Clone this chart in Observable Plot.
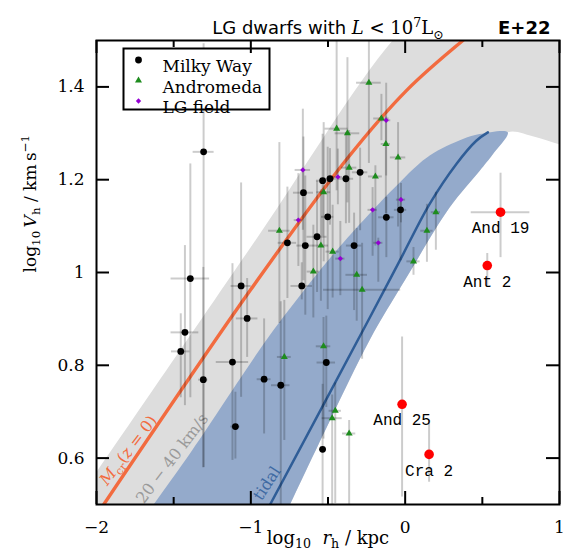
<!DOCTYPE html>
<html>
<head>
<meta charset="utf-8">
<script src="https://cdn.jsdelivr.net/npm/d3@7"></script>
<script src="https://cdn.jsdelivr.net/npm/@observablehq/plot@0.6"></script>
<style>
  html, body { margin: 0; padding: 0; background: #fff; }
</style>
</head>
<body>
<div id="chart"></div>
<script>
// ---------- Milky Way satellites: log10 r_h [kpc], log10 V_h [km/s] ----------
const mwX    = [-1.306,-1.392,-1.427,-1.454,-1.308,-1.063,-1.024,-1.119,-1.100,-0.914,-0.806,-0.670,-0.763,-0.647,-0.571,-0.511,-0.535,-0.659,-0.502,-0.535,-0.487,-0.384,-0.292,-0.331,-0.122,-0.030];
const mwY    = [1.260,0.987,0.871,0.830,0.769,0.971,0.901,0.807,0.668,0.770,0.757,0.971,1.064,1.058,1.077,0.806,0.619,1.172,1.120,1.198,1.202,1.202,1.216,1.058,1.119,1.135];
const mwXErr = [0.068,0.125,0.090,0.060,0.030,0.065,0.070,0.105,0.030,0.045,0.060,0.070,0.060,0.055,0.065,0.060,0.020,0.065,0.040,0.040,0.040,0.050,0.050,0.050,0.050,0.040];
const mwYUp  = [0.233,0.247,0.187,0.081,0.242,0.222,0.086,0.212,0.074,0.130,0.180,0.050,0.120,0.150,0.120,0.100,0.140,0.120,0.150,0.100,0.065,0.100,0.052,0.070,0.043,0.026];
const mwYDn  = [0.680,0.257,0.158,0.100,0.190,0.240,0.084,0.212,0.070,0.118,0.300,0.030,0.120,0.150,0.120,0.097,0.120,0.190,0.200,0.120,0.100,0.097,0.126,0.140,0.087,0.110];

// ---------- Andromeda satellites ----------
const m31X    = [-0.235,-0.444,-0.374,-0.154,-0.125,-0.046,-0.363,-0.193,-0.528,-0.815,-0.546,-0.470,-0.595,0.199,0.141,0.054,-0.314,-0.279,-0.783,-0.529,-0.453,-0.473,-0.363];
const m31Y    = [1.409,1.310,1.300,1.332,1.277,1.248,1.226,1.207,1.173,1.090,1.058,1.045,1.002,1.130,1.090,1.024,0.995,0.963,0.818,0.841,0.702,0.686,0.653];
const m31XErr = [0.080,0.075,0.080,0.050,0.030,0.050,0.050,0.045,0.045,0.070,0.050,0.043,0.040,0.030,0.040,0.043,0.070,0.250,0.045,0.047,0.040,0.065,0.043];
const m31YUp  = [0.091,0.190,0.163,0.052,0.060,0.075,0.080,0.023,0.150,0.190,0.120,0.100,0.100,0.043,0.057,0.030,0.100,0.100,0.122,0.062,0.060,0.050,0.028];
const m31YDn  = [0.174,0.134,0.150,0.048,0.150,0.150,0.120,0.150,0.150,0.200,0.120,0.100,0.100,0.082,0.068,0.030,0.100,0.150,0.180,0.200,0.200,0.200,0.160];

// ---------- Local Group field dwarfs ----------
const lgX    = [-0.663,-0.436,-0.123,-0.692,-0.027,-0.211,-0.174,-0.420];
const lgY    = [1.221,1.206,1.328,1.113,1.157,1.135,1.064,1.030];
const lgXErr = [0.050,0.030,0.030,0.027,0.030,0.030,0.030,0.030];
const lgYUp  = [0.131,0.060,0.080,0.100,0.035,0.048,0.010,0.080];
const lgYDn  = [0.130,0.060,0.120,0.100,0.050,0.100,0.085,0.080];

// ---------- highlighted outliers ----------
const oddNames = ["And 19", "Ant 2", "And 25", "Cra 2"];
const oddX     = [0.618, 0.532, -0.020, 0.155];
const oddY     = [1.130, 1.015, 0.716, 0.608];
const oddXErr  = [0.190, 0.000, 0.015, 0.000];
const oddYUp   = [0.084, 0.026, 0.145, 0.073];
const oddYDn   = [0.098, 0.043, 0.200, 0.060];

// ---------- model curves ----------
// upper edge of the 20-40 km/s halo band
const bandTopX = [-2.20, -2.00, -1.651, -0.940, -0.082, 0.30, 1.10];
const bandTopY = [0.473, 0.570, 0.739, 1.084, 1.500, 1.62, 1.70];
// lower edge of the halo band (also the outer edge of the tidal band)
const bandLowX = [-0.80, -0.746, -0.487, -0.229, -0.003, 0.288, 0.482, 0.568, 0.665, 0.838, 1.000, 1.10];
const bandLowY = [0.462, 0.500, 0.681, 0.855, 0.9825, 1.140, 1.219, 1.255, 1.302, 1.2925, 1.276, 1.268];
// inner edge of the tidal band
const tidalTopX = [-1.70, -1.630, -1.381, -0.940, -0.757, -0.423, -0.024, 0.159, 0.374, 0.482, 0.665];
const tidalTopY = [0.467, 0.500, 0.6165, 0.835, 0.918, 1.056, 1.198, 1.252, 1.2875, 1.2983, 1.302];
// tidal track
const tidalX = [-0.875, -0.229, -0.035, 0.159, 0.332, 0.461, 0.536];
const tidalY = [0.500, 0.903, 1.0255, 1.148, 1.234, 1.284, 1.302];
// critical mass at z = 0
const mcrX = [-1.953, -1.005, -0.379, 0.008, 0.374];
const mcrY = [0.500, 0.961, 1.244, 1.392, 1.500];

// in-panel annotations
const curveLabels = [
  {text: "Mcr(z = 0)", x: -1.793, y: 0.6165, angle: -52.5, color: "#f26b3f"},
  {text: "20 − 40 km/s", x: -1.509, y: 0.599, angle: -52.7, color: "#9a9a9a"},
  {text: "tidal", x: -0.895, y: 0.5454, angle: -57, color: "#3f6aa3"}
];

// axis ticks
const xMajor = [-2, -1, 0, 1];
const xMinor = [-1.5, -0.5, 0.5];
const yMajor = [0.6, 0.8, 1.0, 1.2, 1.4];

// legend
const legendLabels  = ["Milky Way", "Andromeda", "LG field"];
const legendColors  = ["#000000", "#1e8c1e", "#9400d3"];
const legendSymbols = ["circle", "triangle", "diamond2"];
const legendSizes   = [3.4, 2.6, 2.4];

// ---------- assemble tables ----------
const rows = (xs, ys, xe, yu, yd) => xs.map((x, i) => ({x, y: ys[i], xe: xe[i], yu: yu[i], yd: yd[i]}));
const mw = rows(mwX, mwY, mwXErr, mwYUp, mwYDn);
const m31 = rows(m31X, m31Y, m31XErr, m31YUp, m31YDn);
const lg = rows(lgX, lgY, lgXErr, lgYUp, lgYDn);
const odd = rows(oddX, oddY, oddXErr, oddYUp, oddYDn).map((d, i) => ({...d, name: oddNames[i]}));

const pts = (xs, ys) => xs.map((x, i) => ({x, y: ys[i]}));
const grayPoly = [...pts(bandTopX, bandTopY), ...pts(bandLowX, bandLowY).reverse()];
const peak = bandLowX.indexOf(tidalTopX[tidalTopX.length - 1]);
const bluePoly = [...pts(tidalTopX, tidalTopY), ...pts(bandLowX.slice(0, peak), bandLowY.slice(0, peak)).reverse()];

const W = 565, H = 559;
const mT = 40, mB = 55, mL = 96, mR = 6;
const fh = H - mT - mB, fw = W - mL - mR;

const fmt = d => (d < 0 ? "\u2212" : "") + Math.abs(d);

const errStyle = {stroke: "black", strokeOpacity: 0.2, strokeWidth: 2, clip: true};
const errMarks = data => [
  Plot.ruleX(data, {x: "x", y1: d => d.y - d.yd, y2: d => d.y + d.yu, ...errStyle}),
  Plot.ruleY(data.filter(d => d.xe > 0), {y: "y", x1: d => d.x - d.xe, x2: d => d.x + d.xe, ...errStyle})
];

const chart = Plot.plot({
  width: W, height: H,
  marginTop: mT, marginBottom: mB, marginLeft: mL, marginRight: mR,
  x: {domain: [-2, 1], label: null},
  y: {domain: [0.5, 1.5], label: null},
  style: {fontFamily: "DejaVu Serif", fontSize: "16px", background: "#fff", color: "#000", overflow: "visible"},
  marks: [
    // bands
    Plot.line(grayPoly, {x: "x", y: "y", fill: "#dddddd", stroke: "none", curve: "catmull-rom", clip: true}),
    Plot.line(bluePoly, {x: "x", y: "y", fill: "#94aacb", stroke: "none", curve: "catmull-rom", clip: true}),
    Plot.line(pts(tidalX, tidalY), {x: "x", y: "y", stroke: "#2f5d97", strokeWidth: 2.5, curve: "catmull-rom", clip: true}),
    Plot.line(pts(mcrX, mcrY), {x: "x", y: "y", stroke: "#f26b3f", strokeWidth: 3.4, curve: "catmull-rom", clip: true}),
    // curve annotations
    ...curveLabels.map(c => Plot.text([c], {x: "x", y: "y", text: "text", rotate: c.angle, fill: c.color, fontSize: 16})),
    // error bars
    ...errMarks(mw), ...errMarks(m31), ...errMarks(lg), ...errMarks(odd),
    // points
    Plot.dot(mw, {x: "x", y: "y", r: legendSizes[0], fill: legendColors[0], symbol: legendSymbols[0]}),
    Plot.dot(m31, {x: "x", y: "y", r: legendSizes[1], fill: legendColors[1], symbol: legendSymbols[1]}),
    Plot.dot(lg, {x: "x", y: "y", r: legendSizes[2], fill: legendColors[2], symbol: legendSymbols[2]}),
    Plot.dot(odd, {x: "x", y: "y", r: 4.8, fill: "#ff0000"}),
    Plot.text(odd, {x: "x", y: "y", text: "name", dy: 16, fontFamily: "Liberation Mono", fontSize: 16, fill: "#000"}),
    // legend
    Plot.frame({insetLeft: 27, insetTop: 8, insetRight: fw - 173, insetBottom: fh - 69, fill: "#fff", stroke: "#000", strokeWidth: 2}),
    ...legendLabels.map((lab, i) => Plot.dot([lab], {frameAnchor: "top-left", dx: 42, dy: 19.5 + 20.5 * i,
      r: legendSizes[i], fill: legendColors[i], symbol: legendSymbols[i]})),
    ...legendLabels.map((lab, i) => Plot.text([lab], {frameAnchor: "top-left", dx: 66, dy: 19.5 + 20.5 * i,
      text: d => d, textAnchor: "start", fontSize: 17})),
    // ticks (inward, on all four sides)
    Plot.tickX(xMajor, {x: d => d, insetTop: fh - 13, strokeWidth: 2}),
    Plot.tickX(xMajor, {x: d => d, insetBottom: fh - 13, strokeWidth: 2}),
    Plot.tickX(xMinor, {x: d => d, insetTop: fh - 7, strokeWidth: 2}),
    Plot.tickX(xMinor, {x: d => d, insetBottom: fh - 7, strokeWidth: 2}),
    Plot.tickY(yMajor, {y: d => d, insetRight: fw - 13, strokeWidth: 2}),
    Plot.tickY(yMajor, {y: d => d, insetLeft: fw - 13, strokeWidth: 2}),
    Plot.axisX({ticks: xMajor, tickSize: 0, tickPadding: 16, fontSize: 17, label: null, tickFormat: fmt}),
    Plot.axisY({ticks: yMajor, tickSize: 0, tickPadding: 12, fontSize: 17, label: null, tickFormat: fmt}),
    Plot.frame({stroke: "#000", strokeWidth: 2}),
    // axis titles and heading
    Plot.text(["log10 rh / kpc"], {text: d => d, frameAnchor: "bottom", dy: 39, fontSize: 18}),
    Plot.text(["log10 Vh / km s-1"], {text: d => d, frameAnchor: "left", dx: -66, rotate: -90, fontSize: 17}),
    Plot.text(["LG dwarfs with L < 10^7 Lsun"], {text: d => d, frameAnchor: "top", dy: -19, fontSize: 18,
      fontFamily: "DejaVu Sans"}),
    Plot.text(["E+22"], {text: d => d, frameAnchor: "top-right", dx: -9, dy: -19, textAnchor: "end", fontSize: 18,
      fontFamily: "DejaVu Sans", fontWeight: "bold"})
  ]
});

document.getElementById("chart").appendChild(chart);

// rich text: subscripts, superscripts and italics inside single text labels
function rich(original, parts, fs) {
  d3.select(chart).selectAll("text")
    .filter(function () { return this.textContent === original; })
    .each(function () {
      const t = d3.select(this);
      t.text(null);
      let cur = 0;
      for (const p of parts) {
        const target = p.sub ? 0.26 * fs : p.sup ? -0.4 * fs : 0;
        const ts = t.append("tspan").text(p.t);
        if (target !== cur) ts.attr("dy", target - cur);
        cur = target;
        if (p.sub || p.sup) ts.attr("font-size", 0.7 * fs);
        if (p.it) ts.attr("font-style", "italic");
        if (p.ff) ts.attr("font-family", p.ff);
      }
    });
}
const serif = "DejaVu Serif";
rich("log10 rh / kpc", [{t: "log"}, {t: "10", sub: 1}, {t: "\u00a0\u00a0"}, {t: "r", it: 1}, {t: "h", sub: 1}, {t: " / kpc"}], 18);
rich("log10 Vh / km s-1", [{t: "log"}, {t: "10", sub: 1}, {t: "\u2009"}, {t: "V", it: 1}, {t: "h", sub: 1}, {t: " / km\u2009s"}, {t: "\u22121", sup: 1}], 17);
rich("LG dwarfs with L < 10^7 Lsun", [{t: "LG dwarfs with "}, {t: "L", it: 1, ff: serif}, {t: " < 10", ff: serif}, {t: "7", sup: 1, ff: serif},
  {t: "L", ff: serif}, {t: "\u2299", sub: 1, ff: serif}], 18);
rich("Mcr(z = 0)", [{t: "M", it: 1}, {t: "cr", sub: 1}, {t: "("}, {t: "z", it: 1}, {t: " = 0)"}], 16);
</script>
</body>
</html>
